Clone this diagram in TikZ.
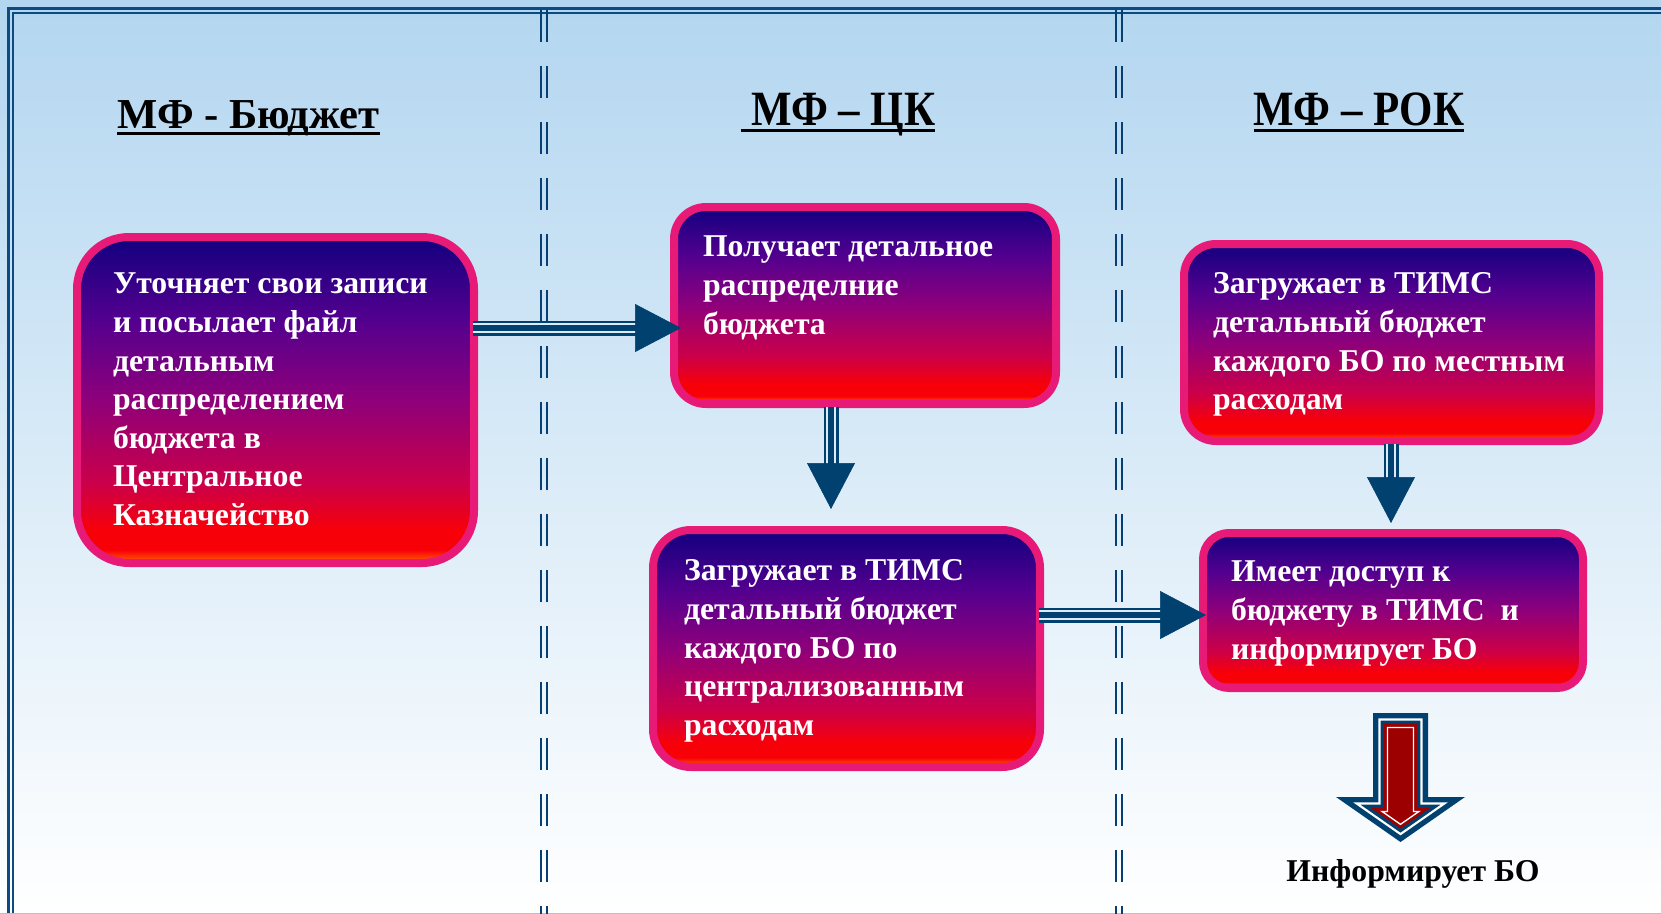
\documentclass[tikz,border=0pt]{standalone}
\usepackage{fontspec}
\setmainfont{Liberation Serif}
\usepackage{graphicx}
\usetikzlibrary{arrows.meta,calc}

\definecolor{navyb}{HTML}{12007F}
\definecolor{viol}{HTML}{55008F}
\definecolor{purp}{HTML}{8E007A}
\definecolor{crim}{HTML}{CC0048}
\definecolor{redb}{HTML}{F80008}
\definecolor{orng}{HTML}{FF6A00}
\definecolor{pinkb}{HTML}{E81A78}
\definecolor{arrowb}{HTML}{00416F}
\definecolor{gapc}{HTML}{DCEBF7}
\definecolor{frameb}{HTML}{0B4B82}
\definecolor{dashb}{HTML}{063F73}
\definecolor{redd}{HTML}{9C0000}
\definecolor{bgtop}{HTML}{B3D6F0}
\definecolor{bgmid}{HTML}{D3E7F5}

\pgfdeclareverticalshading{boxshade}{100bp}{color(0bp)=(orng); color(25bp)=(orng); color(27bp)=(redb); color(30bp)=(redb); color(37bp)=(crim); color(50bp)=(purp); color(62bp)=(viol); color(75bp)=(navyb); color(100bp)=(navyb)}

\newcommand\boxfont{\fontsize{23.8pt}{28.9pt}\selectfont\bfseries}
\newcommand\ulhead[1]{\setbox0=\hbox{#1}\rlap{\rule[-5.5pt]{\wd0}{2.5pt}}\box0}
\newcommand\downshape[1]{({1400.5-27.5+#1},{713+#1}) -- ({1400.5+27.5-#1},{713+#1}) -- ({1400.5+27.5-#1},{797+#1}) -- ({1400.5+64.5*(45-2.22*#1)/45},{797+#1}) -- (1400.5,{842-1.22*#1}) -- ({1400.5-64.5*(45-2.22*#1)/45},{797+#1}) -- ({1400.5-27.5+#1},{797+#1}) -- cycle}

\tikzset{
  proc/.style={draw=pinkb, line width=6pt, shading=boxshade, rounded corners=#1,
    text=white, font=\boxfont},
  head/.style={font=\fontsize{32pt}{36pt}\selectfont\bfseries, inner sep=0pt, anchor=base},
  divider/.style={draw=dashb, line width=1.9pt, dash pattern=on 24pt off 18pt},
  flow/.style={draw=arrowb, fill=arrowb, line width=0.5pt, -{Triangle[length=34.5pt,width=36pt]},
    preaction={draw=arrowb, arrows=-, line width=11.25pt, shorten >=30pt},
    preaction={draw=gapc, arrows=-, line width=7.5pt, shorten >=30pt},
    preaction={draw=arrowb, arrows=-, line width=4.3pt, shorten >=30pt}}
}

\begin{document}
\begin{tikzpicture}[x=0.75pt,y=-0.75pt]

  % Background and frame
  \useasboundingbox (0,0) rectangle (1661,914);
  \shade[top color=bgtop, middle color=bgmid, bottom color=white] (0,0) rectangle (1661,914);
  \draw[frameb, line width=2.25pt] (8.5,914) -- (8.5,8.5) -- (1661,8.5);
  \draw[frameb, line width=1.5pt] (13,914) -- (13,13) -- (1661,13);
  \draw[gray!50, line width=0.75pt] (0,913) -- (1661,913);
  \foreach \x in {541,547,1116,1122}
    \draw[divider] (\x,10) -- (\x,914);

  % Column headers
  \node[head] (h_budget) at (248.5,128) {\ulhead{МФ - Бюджет}};
  \node[head] (h_ck)     at (838,125) {\scalebox{0.87}[1]{\fontsize{37pt}{40pt}\selectfont\ulhead{\ МФ – ЦК}}};
  \node[head] (h_rok)    at (1359,125) {\scalebox{0.87}[1]{\fontsize{37pt}{40pt}\selectfont\ulhead{МФ – РОК}}};

  % Define nodes
  \node[proc=39pt, inner xsep=27pt, inner ysep=22.5pt] (budget) at (275.5,400)
    {\parbox[c][199.5pt][t]{243.75pt}{\raggedright\strut Уточняет свои записи\\ и посылает файл\\ детальным\\ распределением\\ бюджета в\\ Центральное\\ Казначейство}};
  \node[proc=24pt, inner xsep=21.75pt, inner ysep=17.25pt] (ck_get) at (865,305.5)
    {\parbox[c][113.25pt][t]{243pt}{\raggedright\strut Получает детальное\\ распределние\\ бюджета}};
  \node[proc=28.5pt, inner xsep=23.25pt, inner ysep=18pt] (ck_load) at (846.5,648.5)
    {\parbox[c][141.75pt][t]{243.75pt}{\raggedright\strut Загружает в ТИМС\\ детальный бюджет\\ каждого БО по\\ централизованным\\ расходам}};
  \node[proc=24pt, inner xsep=21.75pt, inner ysep=17.25pt] (rok_load) at (1391.5,342.5)
    {\parbox[c][113.25pt][t]{267.75pt}{\raggedright\strut Загружает в ТИМС\\ детальный бюджет\\ каждого БО по местным\\ расходам}};
  \node[proc=19.5pt, inner xsep=21pt, inner ysep=16.5pt] (rok_access) at (1393,610.5)
    {\parbox[c][83.25pt][t]{243pt}{\raggedright\strut Имеет доступ к\\ бюджету в ТИМС\ \ и\\ информирует БО}};
  \node[font=\boxfont, anchor=base, inner sep=0pt] (inform) at (1413,881) {Информирует БО};

  % Connect the nodes
  \draw[flow] ($(budget.east |- 0,328)+(-5,0)$) -- ($(ck_get.west |- 0,328)+(11,0)$);
  \draw[flow] ($(ck_get.south -| 831,0)+(0,-1)$) -- ($(ck_load.north -| 831,0)+(0,-17)$);
  \draw[flow] ($(ck_load.east |- 0,615)+(-5,0)$) -- ($(rok_access.west |- 0,615)+(7,0)$);
  \draw[flow] ($(rok_load.south -| 1391,0)+(0,-1)$) -- ($(rok_access.north -| 1391,0)+(0,-6)$);

  % Block arrow above the last label
  \fill[arrowb] \downshape{0};
  \draw[white, line width=1.6pt] \downshape{6.5};
  \fill[redd] \downshape{11};
  \draw[white, line width=1pt] \downshape{14.5};

\end{tikzpicture}
\end{document}
